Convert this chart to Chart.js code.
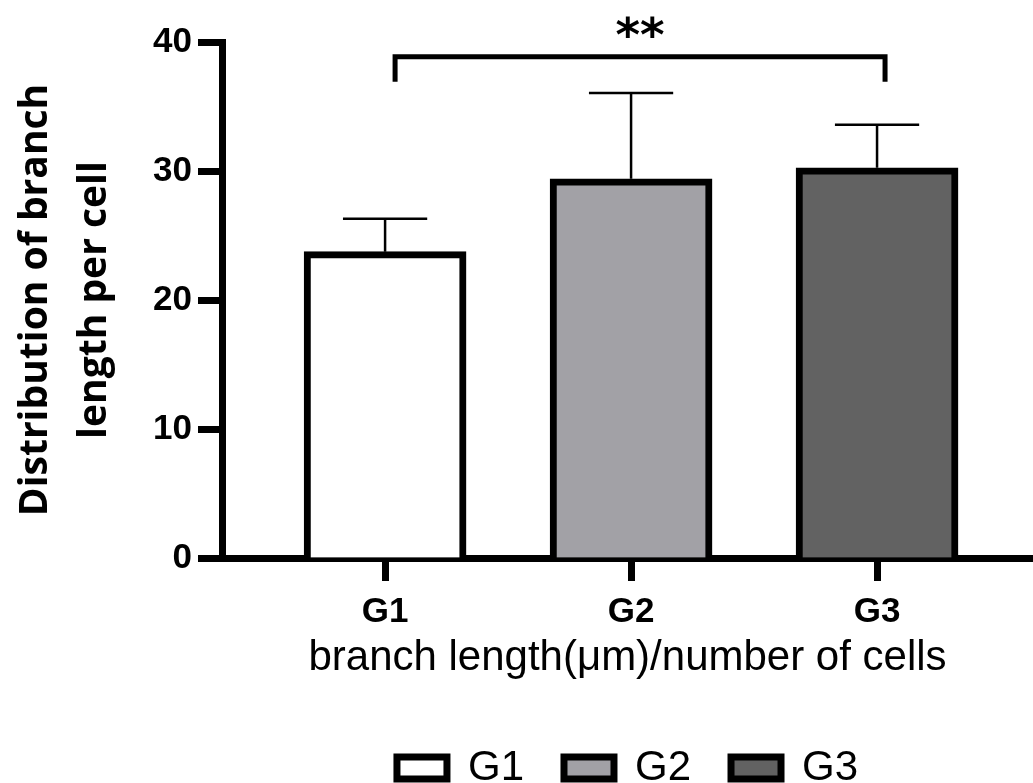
<!DOCTYPE html>
<html>
<head>
<meta charset="utf-8">
<script src="https://cdn.jsdelivr.net/npm/chart.js@4.4.0/dist/chart.umd.min.js"></script>
<style>
  html, body { margin: 0; padding: 0; background: #fff; overflow: hidden; }
  #wrap { position: relative; width: 1033px; height: 799px; }
</style>
</head>
<body>
<div id="wrap"><canvas id="branchChart"></canvas></div>
<script>
const groups = ['G1', 'G2', 'G3'];
const means = [23.75, 29.4, 30.25];
const errors = [2.55, 6.65, 3.33];
const fills = ['#ffffff', '#a2a1a6', '#626262'];
const yTicks = [0, 10, 20, 30, 40];
const significance = { from: 0, to: 2, label: '**', level: 38.85 };

Chart.defaults.font.family = "'Liberation Sans', Arial, sans-serif";
Chart.defaults.color = '#000';

// error bars (upper half only, like the original)
const errorBars = {
    id: 'errorBars',
    afterDatasetsDraw(chart) {
        const ctx = chart.ctx;
        const y = chart.scales.y;
        ctx.save();
        ctx.strokeStyle = '#000';
        ctx.lineWidth = 2.5;
        chart.data.datasets.forEach((ds, i) => {
            const bar = chart.getDatasetMeta(i).data[0];
            const top = y.getPixelForValue(means[i] + errors[i]);
            const half = bar.width * 0.26;
            ctx.beginPath();
            ctx.moveTo(bar.x, bar.y);
            ctx.lineTo(bar.x, top);
            ctx.moveTo(bar.x - half, top);
            ctx.lineTo(bar.x + half, top);
            ctx.stroke();
        });
        ctx.restore();
    }
};

// significance bracket G1 vs G3
const sigBracket = {
    id: 'sigBracket',
    afterDraw(chart) {
        const { ctx, scales: { x, y } } = chart;
        const x1 = x.getPixelForValue(significance.from + 1) + 10;
        const x2 = x.getPixelForValue(significance.to + 1) + 8;
        const yTop = y.getPixelForValue(significance.level);
        const yEnd = yTop + 25;
        ctx.save();
        ctx.strokeStyle = '#000';
        ctx.lineWidth = 5;
        ctx.lineJoin = 'miter';
        ctx.beginPath();
        ctx.moveTo(x1, yEnd);
        ctx.lineTo(x1, yTop);
        ctx.lineTo(x2, yTop);
        ctx.lineTo(x2, yEnd);
        ctx.stroke();
        ctx.fillStyle = '#000';
        ctx.font = 'bold 47px "DejaVu Sans"';
        ctx.textAlign = 'center';
        ctx.textBaseline = 'alphabetic';
        ctx.fillText(significance.label, (x1 + x2) / 2, yTop - 6);
        ctx.restore();
    }
};

const datasets = groups.map((g, i) => ({
    label: g,
    data: [{ x: i + 1, y: means[i] }],
    backgroundColor: fills[i],
    borderColor: '#000',
    borderWidth: 7,
    barThickness: 162,
    grouped: false
}));

const ctx = document.getElementById('branchChart').getContext('2d');
new Chart(ctx, {
    type: 'bar',
    data: { datasets },
    plugins: [errorBars, sigBracket],
    options: {
        responsive: true,
        maintainAspectRatio: false,
        animation: false,
        layout: { padding: { top: 42, left: 0, right: 0, bottom: 0 } },
        plugins: {
            tooltip: { enabled: false },
            legend: {
                position: 'bottom',
                fullSize: false,
                labels: {
                    boxWidth: 50,
                    boxHeight: 22,
                    padding: 40,
                    color: '#000',
                    font: { size: 42 }
                }
            }
        },
        scales: {
            x: {
                type: 'linear',
                offset: false,
                min: 0.337,
                max: 3.634,
                afterBuildTicks: s => { s.ticks = groups.map((g, i) => ({ value: i + 1 })); },
                afterFit: s => { s.height = 149; },
                ticks: {
                    callback: v => groups[v - 1],
                    font: { size: 35, weight: 'bold' },
                    color: '#000',
                    padding: 10,
                    autoSkip: false,
                    maxRotation: 0
                },
                grid: { offset: false, drawOnChartArea: false, tickLength: 23, tickWidth: 7, tickColor: '#000' },
                border: { display: true, width: 7, color: '#000' },
                title: {
                    display: true,
                    text: 'branch length(μm)/number of cells',
                    font: { size: 42 },
                    color: '#000',
                    padding: { top: 0, bottom: 23 }
                }
            },
            y: {
                min: 0,
                max: 40,
                afterBuildTicks: s => { s.ticks = yTicks.map(v => ({ value: v })); },
                afterFit: s => { s.width = 222; },
                ticks: { font: { size: 35, weight: 'bold' }, color: '#000', padding: 6 },
                grid: { drawOnChartArea: false, tickLength: 24, tickWidth: 7, tickColor: '#000' },
                border: { display: true, width: 7, color: '#000' },
                title: {
                    display: true,
                    text: ['Distribution of branch', 'length per cell'],
                    font: { family: "'Open Sans'", size: 39, weight: 'bold', lineHeight: 1.5 },
                    color: '#000',
                    padding: { top: 7, bottom: 0 }
                }
            }
        }
    }
});
</script>
</body>
</html>
